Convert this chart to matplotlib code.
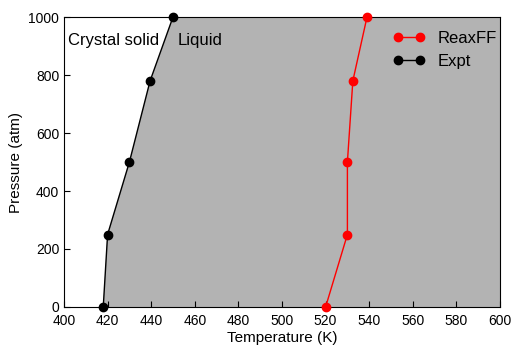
import matplotlib.pyplot as plt

plt.rcParams['font.family'] = ['Liberation Sans', 'DejaVu Sans']

pressure = [0, 250, 500, 780, 1000]
expt_T = [418, 420, 430, 439.5, 450]
reaxff_T = [520, 530, 530, 532.5, 539]

fig = plt.figure(figsize=(5.12, 3.45), dpi=100)
ax = fig.add_axes([64/512, 38/345, 436/512, 290/345])

ax.fill_betweenx(pressure, expt_T, 600, color='#b3b3b3', zorder=0)
ax.plot(reaxff_T, pressure, color='red', marker='o', markersize=6, lw=1, label='ReaxFF', clip_on=False, zorder=3)
ax.plot(expt_T, pressure, color='black', marker='o', markersize=6, lw=1, label='Expt', clip_on=False, zorder=3)

ax.set_xlim(400, 600)
ax.set_ylim(0, 1000)
ax.set_xticks(range(400, 601, 20))
ax.set_yticks(range(0, 1001, 200))
ax.tick_params(direction='in', labelsize=10, length=4)
ax.tick_params(axis='x', pad=5)
ax.set_xlabel('Temperature (K)', fontsize=11, labelpad=2)
ax.set_ylabel('Pressure (atm)', fontsize=11, labelpad=4)

ax.text(402, 920, 'Crystal solid', fontsize=12, va='center')
ax.text(452, 920, 'Liquid', fontsize=12, va='center')

ax.legend(loc='upper left', frameon=False, fontsize=12, handlelength=1.9, numpoints=2,
          handletextpad=0.8, labelspacing=0.5, bbox_to_anchor=(0.72, 1.005))

fig.savefig('out.png', dpi=100)
